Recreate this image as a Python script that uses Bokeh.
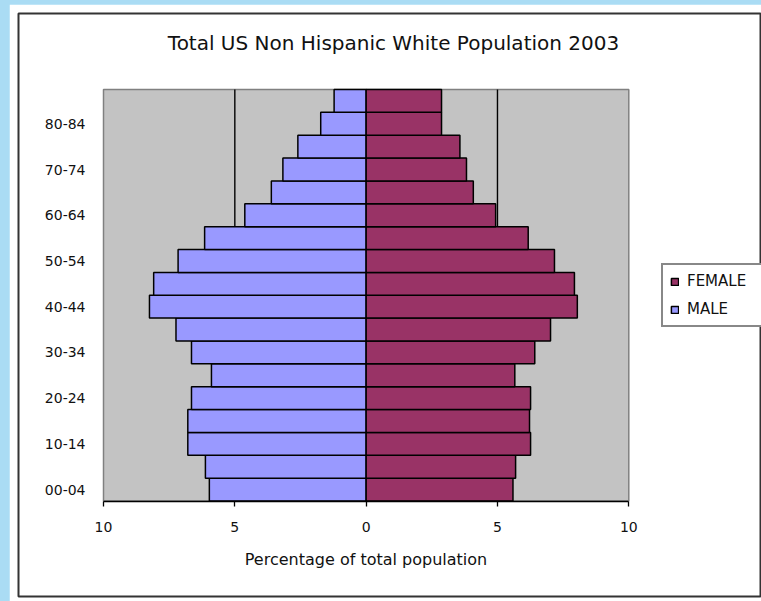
from bokeh.plotting import figure
from bokeh.models import (Range1d, LinearAxis, FixedTicker, Label, Legend,
                          LegendItem, GlobalInlineStyleSheet)
from bokeh.embed import file_html
from bokeh.resources import INLINE

# ---------------- data ----------------
age_groups = ["00-04", "05-09", "10-14", "15-19", "20-24", "25-29", "30-34",
              "35-39", "40-44", "45-49", "50-54", "55-59", "60-64", "65-69",
              "70-74", "75-79", "80-84", "85+"]
male = [5.97, 6.12, 6.79, 6.79, 6.65, 5.89, 6.65, 7.24, 8.25, 8.09, 7.16,
        6.15, 4.62, 3.61, 3.17, 2.60, 1.73, 1.22]
female = [5.59, 5.69, 6.26, 6.22, 6.26, 5.66, 6.42, 7.02, 8.04, 7.93, 7.17,
          6.17, 4.93, 4.08, 3.82, 3.57, 2.87, 2.87]
x_ticks = [-10, -5, 0, 5, 10]
x_tick_labels = ["10", "5", "0", "5", "10"]
grid_at = [-5, 5]
x_limit = 10
title_text = "Total US Non Hispanic White Population 2003"
x_label = "Percentage of total population"

# ---------------- layout (pixels inside the figure) ----------------
W, H = 752, 597
FL, FR, FT, FB = 9, 752, 9, 592           # frame (outer dark box)
PL, PR, PT, PB = 94, 619.3, 85, 496.5     # gray plot area
n = len(age_groups)
ppx = (PR - PL) / (2 * x_limit)
ppy = (PB - PT) / n
x_start = -x_limit - (PL - FL) / ppx
x_end = x_limit + (FR - PR) / ppx
y_top = n - 0.5
y_bot = -0.5
y_end = y_top + (PT - FT) / ppy
y_start = y_bot - (FB - PB) / ppy


def px_to_x(px):
    return -x_limit + (px - PL) / ppx


def py_to_y(py):
    return y_top - (py - PT) / ppy


FONT = "DejaVu Sans"

p = figure(width=W, height=H, x_range=Range1d(x_start, x_end),
           y_range=Range1d(y_start, y_end), output_backend="svg",
           toolbar_location=None, x_axis_location=None, y_axis_location=None,
           min_border_left=FL, min_border_right=W - FR, min_border_top=FT,
           min_border_bottom=H - FB)
p.xgrid.visible = False
p.ygrid.visible = False
p.background_fill_color = "white"
p.border_fill_color = "white"
p.outline_line_color = "#333333"
p.outline_line_width = 2
p.stylesheets = [GlobalInlineStyleSheet(
    css="body{background:#aadcf4;padding:4px 0 0 9px !important;}")]

# gray plot area
p.quad(left=[-x_limit], right=[x_limit], bottom=[y_bot], top=[y_top],
       fill_color="#c3c3c3", line_color="#808080", line_width=1.5)

# vertical gridlines
p.segment(x0=grid_at, x1=grid_at, y0=[y_bot] * len(grid_at),
          y1=[y_top] * len(grid_at), line_color="black", line_width=1.4)

ys = list(range(n))
male_r = p.hbar(y=ys, left=[-m for m in male], right=[0] * n, height=1.0,
                fill_color="#9999ff", line_color="black", line_width=1.5)
fem_r = p.hbar(y=ys, left=[0] * n, right=female, height=1.0,
               fill_color="#993366", line_color="black", line_width=1.5)

# x axis
xaxis = LinearAxis(fixed_location=y_bot, bounds=(-x_limit, x_limit),
                   ticker=FixedTicker(ticks=x_ticks),
                   major_label_overrides={t: l for t, l in zip(x_ticks, x_tick_labels)},
                   axis_label=x_label)
xaxis.minor_tick_line_color = None
xaxis.major_tick_in = 0
xaxis.major_tick_out = 5
xaxis.axis_line_color = "black"
xaxis.axis_line_width = 1.3
xaxis.major_tick_line_color = "black"
xaxis.major_tick_line_width = 1.3
xaxis.major_label_text_font = FONT
xaxis.major_label_text_font_size = "14px"
xaxis.major_label_text_color = "#111111"
xaxis.major_label_standoff = 16
xaxis.axis_label_text_font = FONT
xaxis.axis_label_text_font_size = "16px"
xaxis.axis_label_text_font_style = "normal"
xaxis.axis_label_text_color = "#111111"
xaxis.axis_label_standoff = 14
p.add_layout(xaxis, "below")

# y axis
y_ticks = list(range(0, n, 2))
yaxis = LinearAxis(fixed_location=-x_limit, bounds=(y_bot, y_top),
                   ticker=FixedTicker(ticks=y_ticks),
                   major_label_overrides={i: age_groups[i] for i in y_ticks})
yaxis.axis_line_color = None
yaxis.major_tick_line_color = None
yaxis.minor_tick_line_color = None
yaxis.major_tick_out = 0
yaxis.major_tick_in = 0
yaxis.major_label_standoff = 18
yaxis.major_label_text_font = FONT
yaxis.major_label_text_font_size = "14px"
yaxis.major_label_text_color = "#111111"
p.add_layout(yaxis, "left")

# title
p.add_layout(Label(x=px_to_x(384), y=py_to_y(38), text=title_text,
                   text_align="center", text_baseline="middle",
                   text_font=FONT, text_font_size="20px",
                   text_color="#111111"))

# legend
legend = Legend(items=[LegendItem(label="FEMALE", renderers=[fem_r]),
                       LegendItem(label="MALE", renderers=[male_r])],
                location=(643, 269))
legend.border_line_color = "#111111"
legend.border_line_width = 2
legend.background_fill_color = "white"
legend.background_fill_alpha = 1.0
legend.padding = 7
legend.spacing = 10
legend.margin = 0
legend.glyph_width = 9
legend.glyph_height = 9
legend.label_standoff = 8
legend.label_width = 80
legend.label_text_font = FONT
legend.label_text_font_size = "15px"
legend.label_text_color = "#111111"
p.add_layout(legend, "center")

open("out.html", "w").write(file_html(p, INLINE))
